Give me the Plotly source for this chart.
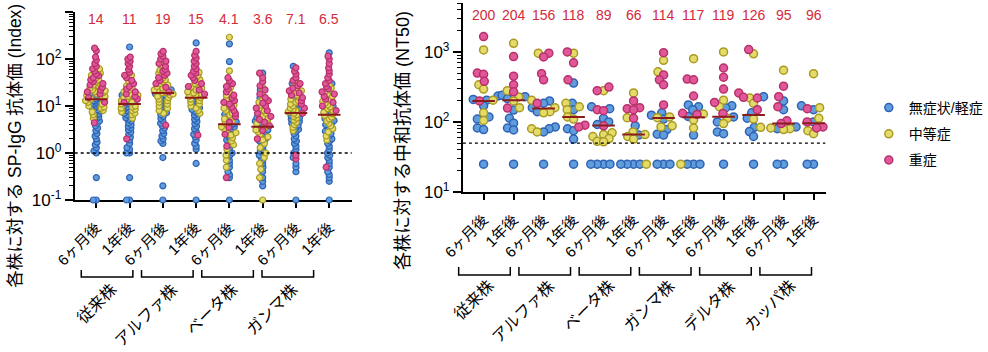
import numpy as np
import plotly.graph_objects as go

W, H = 988, 352
FONT = "Liberation Sans, Arial, Noto Sans CJK JP"

# ---------------- data ----------------
severity_names = ["無症状/軽症", "中等症", "重症"]
tick_labels = ["6ヶ月後", "1年後"]
left_strains = ["従来株", "アルファ株", "ベータ株", "ガンマ株"]
right_strains = ["従来株", "アルファ株", "ベータ株", "ガンマ株", "デルタ株", "カッパ株"]

left_medians = [14, 11, 19, 15, 4.1, 3.6, 7.1, 6.5]
left_median_labels = ["14", "11", "19", "15", "4.1", "3.6", "7.1", "6.5"]
right_medians = [200, 204, 156, 118, 89, 66, 114, 117, 119, 126, 95, 96]
right_median_labels = ["200", "204", "156", "118", "89", "66", "114", "117", "119", "126", "95", "96"]

# Left panel: SP-IgG index
left_mild = [
    [0.1, 0.1, 0.3, 1.0, 1.1, 1.3, 1.5, 1.7, 2.0, 2.3, 2.6, 3.0, 3.4, 3.8, 4.3, 4.8, 5.3, 5.8, 6.3, 6.8, 7.3, 7.8, 8.3, 8.9, 9.5, 10, 10.5, 11, 11.5, 12, 12.5, 13, 14, 15, 16, 17, 19, 21, 24, 28],
    [0.1, 0.1, 0.3, 1.0, 1.0, 1.2, 1.3, 1.6, 1.9, 2.2, 2.5, 2.8, 3.1, 3.4, 3.7, 4.0, 4.4, 4.8, 5.2, 5.6, 6.0, 6.5, 7.0, 7.5, 8.0, 8.5, 9.0, 9.5, 10, 11, 12, 13, 14, 15, 17, 20, 180],
    [0.1, 0.2, 0.8, 1.6, 1.8, 2.0, 2.3, 2.6, 3.0, 3.4, 3.8, 4.3, 4.8, 5.4, 6.0, 6.6, 7.2, 8.0, 8.8, 9.6, 10.5, 11.5, 12.5, 13.5, 15, 16, 17, 18, 20, 22, 25, 28],
    [0.1, 0.6, 1.2, 1.4, 1.6, 1.9, 2.2, 2.5, 2.9, 3.3, 3.7, 4.2, 4.7, 5.2, 5.8, 6.4, 7.0, 7.7, 8.4, 9.2, 10, 11, 12, 13, 14, 15, 16, 18, 20, 23, 26, 220],
    [0.1, 0.3, 0.35, 0.4, 0.5, 0.6, 0.7, 0.8, 0.9, 1.0, 1.1, 1.3, 1.5, 1.7, 1.9, 2.1, 2.4, 2.7, 3.0, 3.3, 3.6, 3.9, 4.2, 4.6, 5.0, 5.5, 6.0, 6.6, 7.3, 8, 9, 10, 12, 14, 17, 88, 210],
    [0.2, 0.25, 0.3, 0.4, 0.5, 0.6, 0.7, 0.8, 0.9, 1.0, 1.1, 1.2, 1.4, 1.6, 1.8, 2.0, 2.2, 2.5, 2.8, 3.1, 3.4, 3.7, 4.0, 4.4, 4.8, 5.2, 5.7, 6.3, 7, 8, 9.5, 12, 15, 22, 50],
    [0.1, 0.4, 0.5, 0.6, 0.8, 1.0, 1.2, 1.4, 1.6, 1.8, 2.0, 2.3, 2.6, 2.9, 3.2, 3.5, 3.9, 4.3, 4.7, 5.2, 5.7, 6.2, 6.8, 7.5, 8.2, 9, 10, 11, 12.5, 14, 16, 20, 30, 70],
    [0.1, 0.25, 0.3, 0.35, 0.4, 0.5, 0.6, 0.7, 0.8, 0.9, 1.0, 1.2, 1.4, 1.6, 1.8, 2.0, 2.3, 2.6, 2.9, 3.2, 3.6, 4.0, 4.4, 4.9, 5.4, 6, 6.6, 7.3, 8, 9, 10, 11.5, 13, 16, 20, 30, 135],
]
left_moderate = [
    [5.5, 6.5, 7.5, 8, 9, 9.5, 10, 11, 12, 13, 14, 15, 16, 17, 18, 19, 20, 21, 22, 24, 26, 28, 30, 33, 36, 40, 45, 50, 55, 62],
    [5.5, 6.5, 7, 7.5, 8, 8.5, 9, 9.5, 10, 11, 12, 13, 14, 15, 16, 17, 18, 20, 22, 24, 27, 30, 34, 40, 45],
    [7, 8, 9, 10, 11, 12, 13, 14, 15, 16, 17, 18, 19, 20, 21, 22, 24, 26, 28, 30, 33, 36, 40, 45, 50, 58, 65, 75, 90],
    [7, 8, 9, 10, 11, 12, 13, 14, 15, 16, 17, 18, 19, 20, 22, 24, 26, 28, 30, 33, 36, 40, 45, 52],
    [0.5, 0.7, 0.9, 1.2, 1.5, 1.8, 2.1, 2.4, 2.7, 3.0, 3.3, 3.6, 4.0, 4.4, 4.8, 5.3, 5.8, 6.4, 7.0, 8, 9, 10.5, 12, 14, 17, 20, 25, 30, 56, 290],
    [0.1, 0.3, 0.45, 0.6, 0.8, 1.0, 1.3, 1.6, 1.9, 2.2, 2.5, 2.8, 3.1, 3.4, 3.8, 4.2, 4.6, 5.0, 5.5, 6, 7, 8, 9, 10.5, 12, 14, 17, 20, 25],
    [3.0, 3.5, 4.0, 4.5, 5.0, 5.5, 6.0, 6.5, 7.0, 7.5, 8, 8.5, 9, 10, 11, 12, 13, 14, 15, 17, 19, 21, 24, 28, 33],
    [1.9, 2.3, 2.8, 3.3, 3.8, 4.3, 4.8, 5.3, 5.8, 6.3, 6.8, 7.3, 8, 8.8, 9.6, 10.5, 11.5, 12.5, 14, 16, 18, 20, 24, 28],
]
left_severe = [
    [4.4, 12, 15, 18, 20, 22, 25, 28, 30, 33, 36, 40, 44, 48, 55, 62, 70, 80, 95, 110, 150, 170],
    [2.0, 12, 14, 16, 18, 20, 23, 26, 30, 35, 40, 45, 52, 60, 70, 80, 90, 100, 110],
    [3.9, 20, 25, 30, 35, 40, 45, 50, 55, 60, 70, 80, 90, 100, 115, 130, 145],
    [2.4, 18, 22, 26, 30, 35, 40, 45, 50, 55, 62, 70, 80, 90, 105, 120, 145],
    [0.3, 1.4, 2.5, 3.5, 4.5, 6, 7, 8, 9.5, 11, 12, 13, 15, 17, 20, 23, 26, 30, 35, 40],
    [2.0, 3.0, 3.8, 4.5, 5.2, 6, 7, 8, 9, 10, 11.5, 13, 15, 18, 22, 27, 33, 40, 50],
    [0.75, 0.9, 7, 9, 11, 13, 15, 17, 19, 21, 24, 27, 30, 35, 40, 48, 55, 65],
    [0.5, 8, 10, 12, 14, 16, 18, 20, 23, 26, 30, 35, 40, 48, 56, 65, 80, 100, 115],
]

# Right panel: neutralizing titre NT50
right_mild = [
    [235, 210, 205, 170, 118, 110, 82, 78, 25],
    [240, 230, 215, 148, 113, 96, 82, 77, 25],
    [200, 185, 160, 140, 85, 80, 72, 25],
    [360, 185, 150, 80, 75, 57, 25],
    [165, 155, 113, 100, 92, 25, 25, 25, 25],
    [88, 65, 25, 25, 25, 25],
    [135, 125, 110, 78, 67, 65, 25, 25, 25],
    [175, 165, 150, 120, 65, 25, 25, 25],
    [170, 160, 118, 100, 72, 68, 25],
    [230, 135, 113, 84, 73, 62, 25],
    [200, 150, 85, 80, 25, 25],
    [170, 150, 100, 25, 25],
]
right_moderate = [
    [1070, 340, 295, 205, 135, 105],
    [1330, 280, 228, 200, 160],
    [960, 205, 160, 140, 135, 80, 72],
    [960, 185, 165, 150, 118, 110],
    [280, 70, 66, 62, 58, 53, 52],
    [260, 115, 72, 66, 62, 57, 25],
    [760, 520, 118, 115, 88, 85],
    [800, 130, 107, 82, 25],
    [1000, 205, 165, 113, 95],
    [940, 220, 185, 110, 84],
    [550, 82, 80, 78],
    [490, 160, 113, 75, 68],
]
right_severe = [
    [1660, 500, 480, 380, 200],
    [860, 450, 340, 270, 158],
    [960, 850, 490, 400, 185],
    [1000, 700, 400, 90, 85],
    [315, 280, 150, 145, 88],
    [200, 160, 155, 150, 113],
    [975, 470, 400, 340, 175],
    [410, 400, 235, 133, 128],
    [590, 435, 295, 190, 132],
    [1080, 260, 225, 220, 150],
    [325, 230, 165, 104, 95],
    [160, 155, 100, 85, 82],
]

left_lod = 1.0
right_lod = 50

# ---------------- styles ----------------
fills = ["#5f9ddc", "#e4dc6a", "#e0589a"]
edges = ["#2f62b4", "#a89a22", "#b8306a"]
median_color = "#8a1c1c"
number_color = "#d42a3a"

# layout geometry (pixels)
L_x0, L_x1, L_ytop, L_ybot = 76, 358, 12, 200
R_x0, R_x1, R_ytop, R_ybot = 471, 840, 3, 192
L_xr = [-0.65, 7.68]
R_xr = [-0.69, 11.4]
L_yr = [-1, 3]
R_yr = [1, np.log10(5000)]

L_ppu = (L_x1 - L_x0) / (L_xr[1] - L_xr[0])
R_ppu = (R_x1 - R_x0) / (R_xr[1] - R_xr[0])
L_ppd = (L_ybot - L_ytop) / (L_yr[1] - L_yr[0])
R_ppd = (R_ybot - R_ytop) / (R_yr[1] - R_yr[0])


def swarm_offsets(values, d, ppd):
    ys = ppd * np.log10(np.asarray(values, dtype=float))
    order = np.argsort(ys, kind="stable")
    xs = np.zeros(len(ys))
    placed = []
    for i in order:
        y = ys[i]
        near = [(px, py) for (px, py) in placed if abs(py - y) < d]
        cands = [0.0]
        for px, py in near:
            dx = np.sqrt(max(d * d - (py - y) ** 2, 0))
            cands += [px + dx, px - dx]
        cands.sort(key=lambda c: (abs(c), c))
        chosen = cands[-1]
        for c in cands:
            if all((c - px) ** 2 + (y - py) ** 2 >= d * d - 1e-6 for px, py in near):
                chosen = c
                break
        xs[i] = chosen
        placed.append((chosen, y))
    return xs


fig = go.Figure()


def add_panel(groups, xax, yax, d, ppd, ppu, msize, mline, legend):
    n = len(groups[0])
    xs_by_sev = [[], [], []]
    ys_by_sev = [[], [], []]
    for g in range(n):
        vals, sev = [], []
        for s in range(3):
            vals += list(groups[s][g])
            sev += [s] * len(groups[s][g])
        offs = swarm_offsets(vals, d, ppd) / ppu
        for v, s, o in zip(vals, sev, offs):
            xs_by_sev[s].append(g + o)
            ys_by_sev[s].append(v)
    for s in range(3):
        fig.add_trace(go.Scatter(
            x=xs_by_sev[s], y=ys_by_sev[s], mode="markers",
            name=severity_names[s], showlegend=legend, legendgroup=str(s),
            marker=dict(size=msize, color=fills[s], line=dict(color=edges[s], width=mline)),
            cliponaxis=False, xaxis=xax, yaxis=yax, hoverinfo="skip"))


add_panel([left_mild, left_moderate, left_severe], "x", "y", 3.1, L_ppd, L_ppu, 6, 1.2, False)
add_panel([right_mild, right_moderate, right_severe], "x2", "y2", 6.5, R_ppd, R_ppu, 8, 1.5, True)


def add_medians(meds, xax, yax, half):
    xs, ys = [], []
    for i, m in enumerate(meds):
        xs += [i - half, i + half, None]
        ys += [m, m, None]
    fig.add_trace(go.Scatter(x=xs, y=ys, mode="lines", line=dict(color=median_color, width=2),
                             showlegend=False, xaxis=xax, yaxis=yax, hoverinfo="skip"))


add_medians(left_medians, "x", "y", 11.5 / L_ppu)
add_medians(right_medians, "x2", "y2", 11.5 / R_ppu)

# LOD dashed lines
fig.add_trace(go.Scatter(x=L_xr, y=[left_lod, left_lod], mode="lines",
                         line=dict(color="black", width=1.3, dash="3px,3px"),
                         showlegend=False, xaxis="x", yaxis="y", hoverinfo="skip"))
fig.add_trace(go.Scatter(x=R_xr, y=[right_lod, right_lod], mode="lines",
                         line=dict(color="black", width=1.3, dash="3px,3px"),
                         showlegend=False, xaxis="x2", yaxis="y2", hoverinfo="skip"))


def px2fx(px):
    return px / W


def py2fy(py):
    return 1 - py / H


def log_minor(lo, hi):
    out = []
    for e in range(lo, hi + 1):
        for k in range(2, 10):
            out.append(k * 10 ** e)
    return out


axis_common = dict(showline=True, linecolor="black", linewidth=2, ticks="outside",
                   tickcolor="black", tickwidth=1.5, showgrid=False, zeroline=False,
                   automargin=False, layer="below traces")
xtickfont = dict(family=FONT, size=15, color="black")
ytickfont = dict(family=FONT, size=17, color="black")

fig.update_layout(
    width=W, height=H, margin=dict(l=0, r=0, t=0, b=0),
    paper_bgcolor="white", plot_bgcolor="white",
    font=dict(family=FONT, color="black"),
    showlegend=True,
    xaxis=dict(domain=[px2fx(L_x0), px2fx(L_x1)], range=L_xr, anchor="y",
               tickmode="array", tickvals=list(range(8)), ticktext=tick_labels * 4,
               tickangle=-45, ticklen=6, ticklabelstandoff=5, tickfont=xtickfont, **axis_common),
    yaxis=dict(domain=[py2fy(L_ybot), py2fy(L_ytop)], type="log", range=L_yr, anchor="x",
               tickmode="array", tickvals=[0.1, 1, 10, 100, 1000],
               ticktext=["10<sup>-1</sup>", "10<sup>0</sup>", "10<sup>1</sup>", "10<sup>2</sup>", "10<sup>3</sup>"],
               ticklen=8, tickfont=ytickfont,
               minor=dict(tickmode="array", tickvals=log_minor(-1, 2), ticks="outside", ticklen=4,
                          tickcolor="black", tickwidth=1.2),
               **axis_common),
    xaxis2=dict(domain=[px2fx(R_x0), px2fx(R_x1)], range=R_xr, anchor="y2",
                tickmode="array", tickvals=list(range(12)), ticktext=tick_labels * 6,
                tickangle=-45, ticklen=6, ticklabelstandoff=5, tickfont=xtickfont, **axis_common),
    yaxis2=dict(domain=[py2fy(R_ybot), py2fy(R_ytop)], type="log", range=R_yr, anchor="x2",
                tickmode="array", tickvals=[10, 100, 1000],
                ticktext=["10<sup>1</sup>", "10<sup>2</sup>", "10<sup>3</sup>"],
                ticklen=8, tickfont=ytickfont,
                minor=dict(tickmode="array", tickvals=[v for v in log_minor(1, 3) if v <= 5000],
                           ticks="outside", ticklen=4, tickcolor="black", tickwidth=1.2),
                **axis_common),
    legend=dict(x=px2fx(884), y=py2fy(92), xanchor="left", yanchor="top",
                font=dict(family=FONT, size=14, color="black"), tracegroupgap=5,
                bgcolor="rgba(0,0,0,0)"),
)

annotations = []
# median numbers
for i, t in enumerate(left_median_labels):
    annotations.append(dict(x=i, y=py2fy(19), xref="x", yref="paper", text=t, showarrow=False,
                            xanchor="center", yanchor="middle",
                            font=dict(family=FONT, size=14, color=number_color)))
for i, t in enumerate(right_median_labels):
    annotations.append(dict(x=i, y=py2fy(15), xref="x2", yref="paper", text=t, showarrow=False,
                            xanchor="center", yanchor="middle",
                            font=dict(family=FONT, size=14, color=number_color)))

# axis titles
annotations.append(dict(x=px2fx(15), y=py2fy(146), xref="paper", yref="paper",
                        text="各株に対する SP-IgG 抗体価 (Index)", textangle=-90, showarrow=False,
                        xanchor="center", yanchor="middle",
                        font=dict(family=FONT, size=17.5, color="black")))
annotations.append(dict(x=px2fx(410), y=py2fy(140), xref="paper", yref="paper",
                        text="各株に対する中和抗体価 (NT50)", textangle=-90, showarrow=False,
                        xanchor="center", yanchor="middle",
                        font=dict(family=FONT, size=18, color="black")))

shapes = []


def add_brackets(names, x_start, y_top, y_bot, label_y):
    for i, nm in enumerate(names):
        x0 = x_start + 61.3 * i
        x1 = x0 + 52.5
        shapes.append(dict(type="path", xref="paper", yref="paper",
                           path=f"M {px2fx(x0)},{py2fy(y_top)} L {px2fx(x0)},{py2fy(y_bot)} "
                                f"L {px2fx(x1)},{py2fy(y_bot)} L {px2fx(x1)},{py2fy(y_top)}",
                           line=dict(color="black", width=1.5)))
        cx = (x0 + x1) / 2
        annotations.append(dict(x=px2fx(cx + 16), y=py2fy(label_y), xref="paper", yref="paper",
                                text=nm, textangle=-45, showarrow=False,
                                xanchor="right", yanchor="top",
                                font=dict(family=FONT, size=16, color="black")))


add_brackets(left_strains, 82.7, 270, 277, 278)
add_brackets(right_strains, 466.7, 267, 275, 274)

fig.update_layout(annotations=annotations, shapes=shapes)
fig.write_html("out.html")
